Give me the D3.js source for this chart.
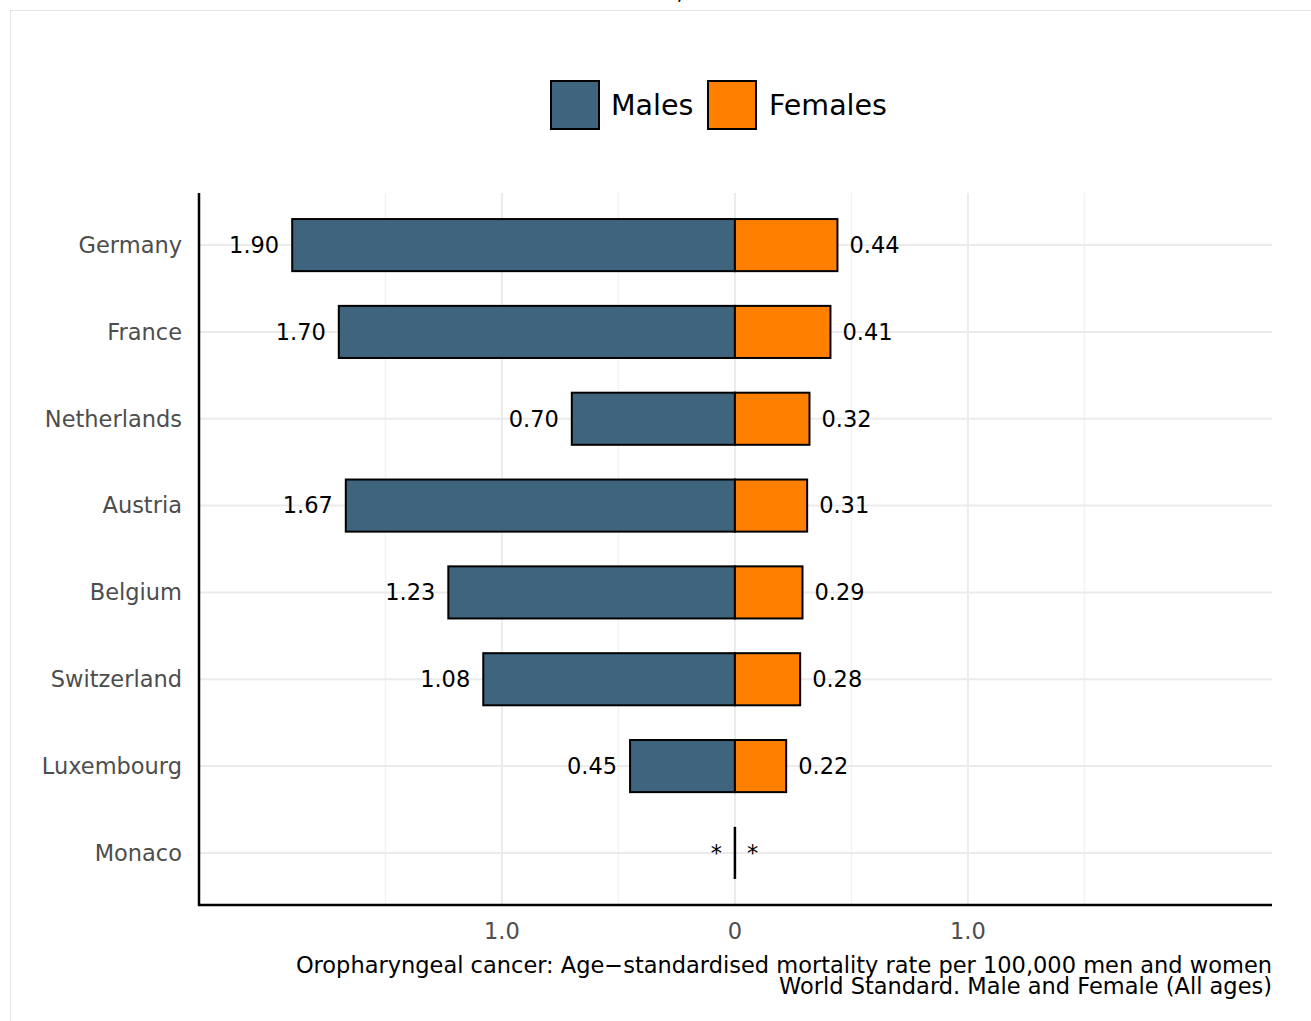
<!DOCTYPE html>
<html><head><meta charset="utf-8">
<script src="https://cdn.jsdelivr.net/npm/d3@7"></script>
<style>body{margin:0;background:#fff}svg{display:block}text{font-family:"DejaVu Sans",sans-serif}</style>
</head><body>
<svg id="c" width="1311" height="1021"></svg>
<script>
const countries = ["Germany","France","Netherlands","Austria","Belgium","Switzerland","Luxembourg","Monaco"];
const males = [1.90, 1.70, 0.70, 1.67, 1.23, 1.08, 0.45, null];
const females = [0.44, 0.41, 0.32, 0.31, 0.29, 0.28, 0.22, null];
const xTicks = [-1, 0, 1];
const xTickLabels = ["1.0", "0", "1.0"];
const minorTicks = [-1.5, -0.5, 0.5, 1.5];
const seriesNames = ["Males", "Females"];
const colors = ["#3e647e", "#ff7f00"];
const captionLines = ["Oropharyngeal cancer: Age\u2212standardised mortality rate per 100,000 men and women", "World Standard. Male and Female (All ages)"];

const svg = d3.select("#c");
const L = 199, R = 1272, T = 193, B = 905;
const FS = 22.5;

// frame
svg.append("rect").attr("x",10.5).attr("y",10.5).attr("width",1340).attr("height",1100)
  .attr("fill","none").attr("stroke","#e3e3e3").attr("stroke-width",1);
// cut-off title remnant
svg.append("text").attr("x",680).attr("y",0).attr("text-anchor","middle").attr("font-size",22).text(",");

const x = d3.scaleLinear().domain([-2.3, 2.305]).range([L, R]);
const y = d3.scalePoint().domain(countries).range([T, B]).padding(0.6);
const step = y.step();
const bh = 0.6 * step;

// grid
const g = svg.append("g");
minorTicks.forEach(t => g.append("line").attr("x1",x(t)).attr("x2",x(t)).attr("y1",T).attr("y2",B)
  .attr("stroke","#f3f3f3").attr("stroke-width",1.5));
xTicks.forEach(t => g.append("line").attr("x1",x(t)).attr("x2",x(t)).attr("y1",T).attr("y2",B)
  .attr("stroke","#ebebeb").attr("stroke-width",2));
countries.forEach(c => g.append("line").attr("x1",L).attr("x2",R).attr("y1",y(c)).attr("y2",y(c))
  .attr("stroke","#ebebeb").attr("stroke-width",2));

// bars
countries.forEach((c, i) => {
  const m = males[i], f = females[i];
  if (m != null) {
    svg.append("rect").attr("x",x(-m)).attr("y",y(c)-bh/2).attr("width",x(0)-x(-m)).attr("height",bh)
      .attr("fill",colors[0]).attr("stroke","#000").attr("stroke-width",2);
  }
  if (f != null) {
    svg.append("rect").attr("x",x(0)).attr("y",y(c)-bh/2).attr("width",x(f)-x(0)).attr("height",bh)
      .attr("fill",colors[1]).attr("stroke","#000").attr("stroke-width",2);
  }
  if (m == null && f == null) {
    svg.append("line").attr("x1",x(0)).attr("x2",x(0)).attr("y1",y(c)-bh/2).attr("y2",y(c)+bh/2)
      .attr("stroke","#000").attr("stroke-width",2.5);
  }
  svg.append("text").attr("x",x(m == null ? 0 : -m) - 13).attr("y",y(c)).attr("dy","0.35em")
    .attr("text-anchor","end").attr("font-size",FS).attr("fill","#000")
    .text(m == null ? "*" : m.toFixed(2));
  svg.append("text").attr("x",x(f == null ? 0 : f) + 12).attr("y",y(c)).attr("dy","0.35em")
    .attr("text-anchor","start").attr("font-size",FS).attr("fill","#000")
    .text(f == null ? "*" : f.toFixed(2));
  svg.append("text").attr("x",182).attr("y",y(c)).attr("dy","0.35em").attr("text-anchor","end")
    .attr("font-size",FS).attr("fill","#4d4d4d").text(c);
});

// axes
svg.append("line").attr("x1",L).attr("x2",L).attr("y1",T).attr("y2",B+1).attr("stroke","#000").attr("stroke-width",2.5);
svg.append("line").attr("x1",L-1).attr("x2",R).attr("y1",B).attr("y2",B).attr("stroke","#000").attr("stroke-width",2.5);
xTicks.forEach((t, i) => svg.append("text").attr("x",x(t)).attr("y",931).attr("dy","0.35em")
  .attr("text-anchor","middle").attr("font-size",FS).attr("fill","#4d4d4d").text(xTickLabels[i]));

// caption
captionLines.forEach((s, i) => svg.append("text").attr("x",R).attr("y",973 + i*20.5)
  .attr("text-anchor","end").attr("font-size",FS).attr("fill","#000").text(s));

// legend
const lg = [{x:551, tx:611}, {x:708, tx:769}];
seriesNames.forEach((n, i) => {
  svg.append("rect").attr("x",lg[i].x).attr("y",81).attr("width",48).attr("height",48)
    .attr("fill",colors[i]).attr("stroke","#000").attr("stroke-width",2);
  svg.append("text").attr("x",lg[i].tx).attr("y",105).attr("dy","0.35em").attr("font-size",28.5)
    .attr("fill","#000").text(n);
});
</script>
</body></html>
